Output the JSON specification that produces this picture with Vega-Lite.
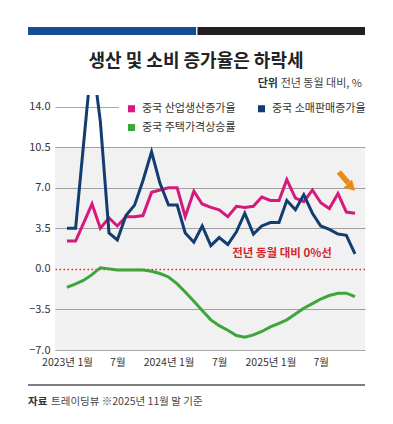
{
  "$schema": "https://vega.github.io/schema/vega-lite/v6.json",
  "autosize": {"type": "none"},
  "width": 310,
  "height": 255,
  "padding": {"left": 55, "top": 95, "right": 28, "bottom": 74},
  "background": "white",
  "title": {
    "text": "생산 및 소비 증가율은 하락세",
    "fontSize": 18,
    "fontWeight": "bold",
    "color": "#222222",
    "font": "Noto Sans CJK KR",
    "anchor": "middle",
    "frame": "group",
    "dx": -14,
    "offset": -44
  },
  "config": {
    "font": "Noto Sans CJK KR",
    "view": {"stroke": null}
  },
  "layer": [
    {
      "data": {"values": [{}]},
      "mark": {"type": "rect", "fill": "#000000", "opacity": 0.055},
      "encoding": {
        "y": {
          "datum": 10.5,
          "type": "quantitative",
          "scale": {"domain": [-7, 15], "nice": false, "zero": false},
          "axis": {
            "title": null,
            "grid": true,
            "values": [-7, -3.5, 0, 3.5, 7, 10.5, 14],
            "format": ".1f",
            "domain": false,
            "ticks": false,
            "labelPadding": 5,
            "labelFontSize": 11,
            "labelColor": "#333333",
            "gridColor": {"condition": {"test": "datum.value === 0", "value": "#d9333a"}, "value": "#8c8c8c"},
            "gridDash": {"condition": {"test": "datum.value === 0", "value": [1.5, 2.5]}, "value": [1, 0]},
            "gridWidth": {"condition": {"test": "datum.value === 0", "value": 1.5}, "value": 1}
          }
        },
        "y2": {"datum": -7}
      }
    },
    {
      "data": {
        "values": [
          {"date": "2023/01/01", "중국 산업생산증가율": 2.4, "중국 소매판매증가율": 3.5, "중국 주택가격상승률": -1.6},
          {"date": "2023/02/01", "중국 산업생산증가율": 2.4, "중국 소매판매증가율": 3.5, "중국 주택가격상승률": -1.3},
          {"date": "2023/03/01", "중국 산업생산증가율": 3.9, "중국 소매판매증가율": 10.6, "중국 주택가격상승률": -1.0},
          {"date": "2023/04/01", "중국 산업생산증가율": 5.6, "중국 소매판매증가율": 18.4, "중국 주택가격상승률": -0.5},
          {"date": "2023/05/01", "중국 산업생산증가율": 3.5, "중국 소매판매증가율": 12.7, "중국 주택가격상승률": 0.1},
          {"date": "2023/06/01", "중국 산업생산증가율": 4.4, "중국 소매판매증가율": 3.1, "중국 주택가격상승률": 0.0},
          {"date": "2023/07/01", "중국 산업생산증가율": 3.7, "중국 소매판매증가율": 2.5, "중국 주택가격상승률": -0.1},
          {"date": "2023/08/01", "중국 산업생산증가율": 4.5, "중국 소매판매증가율": 4.6, "중국 주택가격상승률": -0.1},
          {"date": "2023/09/01", "중국 산업생산증가율": 4.5, "중국 소매판매증가율": 5.5, "중국 주택가격상승률": -0.1},
          {"date": "2023/10/01", "중국 산업생산증가율": 4.6, "중국 소매판매증가율": 7.6, "중국 주택가격상승률": -0.1},
          {"date": "2023/11/01", "중국 산업생산증가율": 6.6, "중국 소매판매증가율": 10.1, "중국 주택가격상승률": -0.2},
          {"date": "2023/12/01", "중국 산업생산증가율": 6.8, "중국 소매판매증가율": 7.4, "중국 주택가격상승률": -0.4},
          {"date": "2024/01/01", "중국 산업생산증가율": 7.0, "중국 소매판매증가율": 5.5, "중국 주택가격상승률": -0.7},
          {"date": "2024/02/01", "중국 산업생산증가율": 7.0, "중국 소매판매증가율": 5.5, "중국 주택가격상승률": -1.3},
          {"date": "2024/03/01", "중국 산업생산증가율": 4.5, "중국 소매판매증가율": 3.1, "중국 주택가격상승률": -2.0},
          {"date": "2024/04/01", "중국 산업생산증가율": 6.7, "중국 소매판매증가율": 2.3, "중국 주택가격상승률": -2.8},
          {"date": "2024/05/01", "중국 산업생산증가율": 5.6, "중국 소매판매증가율": 3.7, "중국 주택가격상승률": -3.6},
          {"date": "2024/06/01", "중국 산업생산증가율": 5.3, "중국 소매판매증가율": 2.0, "중국 주택가격상승률": -4.4},
          {"date": "2024/07/01", "중국 산업생산증가율": 5.1, "중국 소매판매증가율": 2.7, "중국 주택가격상승률": -4.9},
          {"date": "2024/08/01", "중국 산업생산증가율": 4.5, "중국 소매판매증가율": 2.1, "중국 주택가격상승률": -5.3},
          {"date": "2024/09/01", "중국 산업생산증가율": 5.4, "중국 소매판매증가율": 3.2, "중국 주택가격상승률": -5.75},
          {"date": "2024/10/01", "중국 산업생산증가율": 5.3, "중국 소매판매증가율": 4.8, "중국 주택가격상승률": -5.9},
          {"date": "2024/11/01", "중국 산업생산증가율": 5.4, "중국 소매판매증가율": 3.0, "중국 주택가격상승률": -5.7},
          {"date": "2024/12/01", "중국 산업생산증가율": 6.2, "중국 소매판매증가율": 3.7, "중국 주택가격상승률": -5.4},
          {"date": "2025/01/01", "중국 산업생산증가율": 5.9, "중국 소매판매증가율": 4.0, "중국 주택가격상승률": -5.0},
          {"date": "2025/02/01", "중국 산업생산증가율": 5.9, "중국 소매판매증가율": 4.0, "중국 주택가격상승률": -4.7},
          {"date": "2025/03/01", "중국 산업생산증가율": 7.7, "중국 소매판매증가율": 5.9, "중국 주택가격상승률": -4.4},
          {"date": "2025/04/01", "중국 산업생산증가율": 6.1, "중국 소매판매증가율": 5.1, "중국 주택가격상승률": -3.9},
          {"date": "2025/05/01", "중국 산업생산증가율": 5.8, "중국 소매판매증가율": 6.4, "중국 주택가격상승률": -3.4},
          {"date": "2025/06/01", "중국 산업생산증가율": 6.8, "중국 소매판매증가율": 4.8, "중국 주택가격상승률": -3.0},
          {"date": "2025/07/01", "중국 산업생산증가율": 5.7, "중국 소매판매증가율": 3.7, "중국 주택가격상승률": -2.6},
          {"date": "2025/08/01", "중국 산업생산증가율": 5.2, "중국 소매판매증가율": 3.4, "중국 주택가격상승률": -2.3},
          {"date": "2025/09/01", "중국 산업생산증가율": 6.5, "중국 소매판매증가율": 3.0, "중국 주택가격상승률": -2.1},
          {"date": "2025/10/01", "중국 산업생산증가율": 4.9, "중국 소매판매증가율": 2.9, "중국 주택가격상승률": -2.1},
          {"date": "2025/11/01", "중국 산업생산증가율": 4.8, "중국 소매판매증가율": 1.3, "중국 주택가격상승률": -2.4}
        ]
      },
      "transform": [
        {"fold": ["중국 산업생산증가율", "중국 소매판매증가율", "중국 주택가격상승률"], "as": ["series", "value"]}
      ],
      "mark": {"type": "line", "strokeWidth": 3, "clip": true, "interpolate": "linear"},
      "encoding": {
        "x": {
          "field": "date",
          "type": "temporal",
          "scale": {"domain": [{"year": 2022, "month": 11, "date": 19}, {"year": 2025, "month": 12, "date": 7}]},
          "axis": {
            "title": null,
            "values": [
              {"year": 2023, "month": 1, "date": 1},
              {"year": 2023, "month": 7, "date": 1},
              {"year": 2024, "month": 1, "date": 1},
              {"year": 2024, "month": 7, "date": 1},
              {"year": 2025, "month": 1, "date": 1},
              {"year": 2025, "month": 7, "date": 1}
            ],
            "labelExpr": "month(datum.value) == 0 ? year(datum.value) + '년 1월' : '7월'",
            "grid": false,
            "domain": false,
            "ticks": false,
            "labelPadding": 7,
            "labelFontSize": 10.5,
            "labelColor": "#333333"
          }
        },
        "y": {"field": "value", "type": "quantitative"},
        "color": {
          "field": "series",
          "type": "nominal",
          "scale": {
            "domain": ["중국 산업생산증가율", "중국 소매판매증가율", "중국 주택가격상승률"],
            "range": ["#d7197c", "#133d70", "#3da63a"]
          },
          "legend": {
            "title": null,
            "orient": "none",
            "direction": "horizontal",
            "legendX": 64,
            "legendY": 1,
            "columns": 2,
            "columnPadding": 20,
            "rowPadding": 7,
            "padding": 7,
            "fillColor": "white",
            "symbolType": "square",
            "symbolSize": 50,
            "labelFontSize": 11,
            "labelColor": "#333333",
            "labelOffset": 5,
            "labelLimit": 300,
            "encode": {
              "symbols": {
                "update": {
                  "fill": {"scale": "color", "field": "value"},
                  "strokeWidth": {"value": 0}
                }
              }
            }
          }
        }
      }
    },
    {
      "data": {"values": [{}]},
      "mark": {"type": "text", "text": "전년 동월 대비 0%선", "fontSize": 11.5, "fontWeight": "bold", "color": "#d32a2e", "align": "center", "baseline": "middle"},
      "encoding": {
        "x": {"datum": {"year": 2025, "month": 2, "date": 12}, "type": "temporal"},
        "y": {"datum": 1.28, "type": "quantitative"}
      }
    },
    {
      "data": {"values": [{}]},
      "mark": {"type": "rule", "color": "#ee8a12", "strokeWidth": 5.5},
      "encoding": {
        "x": {"datum": {"year": 2025, "month": 9, "date": 4}, "type": "temporal"},
        "y": {"datum": 8.36, "type": "quantitative"},
        "x2": {"datum": {"year": 2025, "month": 10, "date": 8}},
        "y2": {"datum": 7.4}
      }
    },
    {
      "data": {"values": [{}]},
      "mark": {"type": "point", "shape": "triangle", "filled": true, "color": "#ee8a12", "opacity": 1, "size": 140, "angle": 135},
      "encoding": {
        "x": {"datum": {"year": 2025, "month": 10, "date": 15}, "type": "temporal"},
        "y": {"datum": 7.15, "type": "quantitative"}
      }
    },
    {
      "data": {"values": [{}]},
      "mark": {"type": "rect", "fill": "#154c93"},
      "encoding": {
        "x": {"datum": {"year": 2022, "month": 8, "date": 14}, "type": "temporal"},
        "x2": {"datum": {"year": 2024, "month": 4, "date": 9}},
        "y": {"datum": 20.87, "type": "quantitative"},
        "y2": {"datum": 20.18}
      }
    },
    {
      "data": {"values": [{}]},
      "mark": {"type": "rect", "fill": "#231f20"},
      "encoding": {
        "x": {"datum": {"year": 2024, "month": 4, "date": 14}, "type": "temporal"},
        "x2": {"datum": {"year": 2025, "month": 12, "date": 7}},
        "y": {"datum": 20.87, "type": "quantitative"},
        "y2": {"datum": 20.18}
      }
    },
    {
      "data": {"values": [{}]},
      "mark": {"type": "text", "text": "단위", "fontSize": 11, "fontWeight": "bold", "color": "#333333", "align": "right", "baseline": "middle"},
      "encoding": {
        "x": {"datum": {"year": 2025, "month": 1, "date": 28}, "type": "temporal"},
        "y": {"datum": 15.95, "type": "quantitative"}
      }
    },
    {
      "data": {"values": [{}]},
      "mark": {"type": "text", "text": "전년 동월 대비, %", "fontSize": 11, "color": "#444444", "align": "right", "baseline": "middle"},
      "encoding": {
        "x": {"datum": {"year": 2025, "month": 11, "date": 26}, "type": "temporal"},
        "y": {"datum": 15.95, "type": "quantitative"}
      }
    },
    {
      "data": {"values": [{}]},
      "mark": {"type": "rule", "color": "#555555", "strokeWidth": 1.5},
      "encoding": {
        "x": {"datum": {"year": 2022, "month": 8, "date": 14}, "type": "temporal"},
        "x2": {"datum": {"year": 2025, "month": 12, "date": 7}},
        "y": {"datum": -10.02, "type": "quantitative"}
      }
    },
    {
      "data": {"values": [{}]},
      "mark": {"type": "text", "text": "자료", "fontSize": 10.5, "fontWeight": "bold", "color": "#333333", "align": "left", "baseline": "middle"},
      "encoding": {
        "x": {"datum": {"year": 2022, "month": 8, "date": 14}, "type": "temporal"},
        "y": {"datum": -11.49, "type": "quantitative"}
      }
    },
    {
      "data": {"values": [{}]},
      "mark": {"type": "text", "text": "트레이딩뷰  ※2025년 11월 말 기준", "fontSize": 10.5, "color": "#444444", "align": "left", "baseline": "middle"},
      "encoding": {
        "x": {"datum": {"year": 2022, "month": 11, "date": 5}, "type": "temporal"},
        "y": {"datum": -11.49, "type": "quantitative"}
      }
    }
  ]
}
